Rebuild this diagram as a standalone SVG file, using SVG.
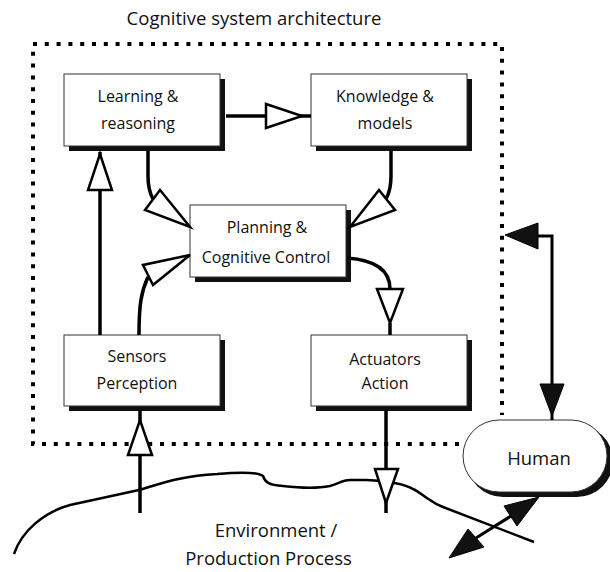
<svg xmlns="http://www.w3.org/2000/svg" width="610" height="572" viewBox="0 0 610 572">
<style>
text{font-family:"Open Sans","Liberation Sans",sans-serif;fill:#111;text-anchor:middle}
.n{font-size:16px}
.b{font-size:18.5px}
.box{fill:#fff;stroke:#333;stroke-width:1}
.sh{fill:#111}
.ln{fill:none;stroke:#000;stroke-width:3.5}
.thin{fill:none;stroke:#000;stroke-width:3}
.oa{fill:#fff;stroke:#000;stroke-width:2.5;stroke-linejoin:miter}
.fa{fill:#111;stroke:#000;stroke-width:1}
.dot{fill:none;stroke:#000;stroke-width:4;stroke-dasharray:4 7.8}
.env{fill:none;stroke:#000;stroke-width:2.5}
</style>
<rect width="610" height="572" fill="#fff"/>
<text class="b" x="254" y="25">Cognitive system architecture</text>
<path class="dot" d="M459,444 L33,444 L33,44 L502,44 L502,415"/>
<path class="env" d="M14,554 C22,530 45,512 70,505 L139,490 C160,484 180,476 217,474 C240,472 258,472 263,476 C265,482 268,485 283,486 C300,488 320,488 330,486 C338,484 342,480 350,480 L366,480 C385,481 405,484 413,489 C420,492 424,497 430,500 C434,503 438,505 443,507 L534,542"/>
<g id="learning">
<rect class="sh" x="69" y="79" width="156" height="72"/>
<rect class="box" x="64" y="74" width="156" height="72"/>
<text class="n" x="138" y="102">Learning &amp;</text>
<text class="n" x="138" y="129">reasoning</text>
</g>
<g id="knowledge">
<rect class="sh" x="316" y="79" width="156" height="72"/>
<rect class="box" x="311" y="74" width="156" height="72"/>
<text class="n" x="385" y="102">Knowledge &amp;</text>
<text class="n" x="385" y="129">models</text>
</g>
<g id="planning">
<rect class="sh" x="195" y="210" width="156" height="72"/>
<rect class="box" x="190" y="205" width="156" height="72"/>
<text class="n" x="267" y="233">Planning &amp;</text>
<text class="n" x="266" y="263">Cognitive Control</text>
</g>
<g id="sensors">
<rect class="sh" x="69" y="340" width="156" height="71"/>
<rect class="box" x="64" y="335" width="156" height="71"/>
<text class="n" x="137" y="362">Sensors</text>
<text class="n" x="137" y="389">Perception</text>
</g>
<g id="actuators">
<rect class="sh" x="316" y="340" width="156" height="71"/>
<rect class="box" x="311" y="335" width="156" height="71"/>
<text class="n" x="385" y="365">Actuators</text>
<text class="n" x="385" y="389">Action</text>
</g>
<g id="human">
<rect class="sh" x="467" y="425" width="146" height="72" rx="36"/>
<rect class="box" x="463" y="420" width="144" height="72" rx="36"/>
<text class="b" x="539" y="465">Human</text>
</g>
<g id="environment">
<text class="b" x="276" y="537">Environment /</text>
<text class="b" x="268.5" y="565">Production Process</text>
</g>
<g id="connectors">
<path class="ln" d="M226,116 L311,116"/>
<polygon class="oa" points="266,104 302,116 266,128"/>
<path class="ln" d="M100,335 L100,152"/>
<polygon class="oa" points="88,190 112,190 100,154"/>
<path class="ln" d="M148,151 L148,176 Q148,190 153,199"/>
<polygon class="oa" points="145,210 160,190 190,227"/>
<path class="ln" d="M391,151 L391,176 Q391,190 386,199"/>
<polygon class="oa" points="379,190 395,210 350,227"/>
<path class="ln" d="M139,335 C139,305 141,292 148,277"/>
<polygon class="oa" points="143,265 153,285 190,255"/>
<path class="ln" d="M347,258 C376,260 390,270 390,289"/>
<polygon class="oa" points="377,289 403,289 390,323"/>
<path class="ln" d="M390,323 L390,335"/>
<path class="ln" d="M140,513 L140,411"/>
<polygon class="oa" points="128,455 152,455 140,420"/>
<path class="ln" d="M386,411 L386,513"/>
<polygon class="oa" points="375,469 398,469 386,503"/>
<path class="thin" d="M538,236 L552,236 L552,420"/>
<polygon class="fa" points="538,223 538,249 505,235"/>
<polygon class="fa" points="540,384 564,384 552,416"/>
<path class="thin" d="M511,516 L476,538"/>
<polygon class="fa" points="539,497 504,506 517,526"/>
<polygon class="fa" points="449,558 468,529 484,547"/>
</g>
</svg>
